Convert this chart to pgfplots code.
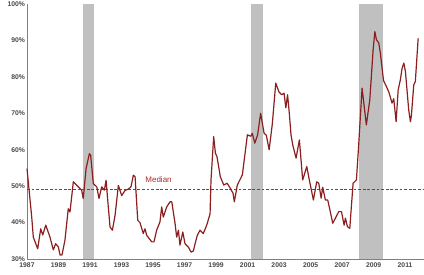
\documentclass[border=0pt]{standalone}
\usepackage{pgfplots}
\pgfplotsset{compat=1.18}
\usepackage{fontspec}
\setmainfont{Liberation Sans}
\definecolor{lineRed}{HTML}{8B1E1E}
\definecolor{medRed}{HTML}{B02A2A}
\definecolor{recGray}{HTML}{C0C0C0}
\definecolor{axGray}{HTML}{808080}
\definecolor{tickText}{HTML}{484848}
\begin{document}
\begin{tikzpicture}
\useasboundingbox (-27pt,-15pt) rectangle (397pt,259pt);
\begin{axis}[
  at={(0pt,0pt)}, anchor=south west,
  scale only axis, width=397pt, height=255pt,
  xmin=1987, xmax=2012.2, ymin=30, ymax=100,
  axis x line=bottom, axis y line=left,
  axis line style={-, draw=axGray, line width=0.8pt},
  xtick={1987,1989,...,2011},
  ytick={30,40,...,100},
  major tick length=0pt,
  tick style={draw=none},
  /pgf/number format/1000 sep={},
  /pgf/number format/assume math mode=true,
  yticklabel={\pgfmathprintnumber{\tick}\%},
  ticklabel style={font=\fontsize{6.8}{8}\selectfont\bfseries, text=tickText},
  xticklabel style={yshift=0pt},
  yticklabel style={xshift=1.5pt},
  clip=false,
]
% recession bars
\addplot[fill=recGray, draw=none] coordinates {(1990.55,30) (1990.55,100) (1991.28,100) (1991.28,30)} -- cycle;
\addplot[fill=recGray, draw=none] coordinates {(2001.22,30) (2001.22,100) (2001.98,100) (2001.98,30)} -- cycle;
\addplot[fill=recGray, draw=none] coordinates {(2008.06,30) (2008.06,100) (2009.6,100) (2009.6,30)} -- cycle;
% median
\addplot[medRed, line width=0.9pt, dash pattern=on 2.8pt off 1.8pt] coordinates {(1987,49) (2012.2,49)};
\node[text=medRed, font=\fontsize{8}{9}\selectfont] at (axis cs:1995.35,51.9) {Median};
% series
\addplot[lineRed, line width=1.2pt, line join=round] coordinates {
(1987.00,54.8) (1987.30,41.5) (1987.40,36) (1987.68,32.8) (1987.87,38.3) (1988.00,36.6)
(1988.19,39.3) (1988.46,36) (1988.67,32.5) (1988.82,34.2) (1988.99,33.3) (1989.10,31.1)
(1989.22,31.1) (1989.41,35.2) (1989.62,43.8) (1989.73,42.9) (1989.94,51.2) (1990.26,49.8)
(1990.47,48.9) (1990.57,46.6) (1990.75,54.8) (1990.96,58.9) (1991.04,58.5) (1991.21,50.7)
(1991.43,49.8) (1991.57,46.6) (1991.74,49.8) (1991.91,48.9) (1992.02,51.6) (1992.10,47.4)
(1992.27,38.8) (1992.42,37.9) (1992.59,42) (1992.80,50.2) (1993.01,47.4) (1993.22,48.8)
(1993.43,49.2) (1993.60,49.8) (1993.75,53) (1993.86,52.6) (1994.03,40.6) (1994.17,40)
(1994.38,37) (1994.49,38.3) (1994.60,36.5) (1994.92,34.7) (1995.06,34.7) (1995.23,37.9)
(1995.44,40.2) (1995.55,44.3) (1995.65,41.5) (1995.87,44.3) (1996.08,45.7) (1996.19,45.7)
(1996.40,39.7) (1996.50,36) (1996.61,37.9) (1996.71,33.8) (1996.89,37.4) (1997.03,34.2)
(1997.24,33.3) (1997.41,31.9) (1997.56,32.2) (1997.67,34.2) (1997.81,36.5) (1997.98,37.9)
(1998.19,37) (1998.41,39.3) (1998.62,42.4) (1998.68,51.7) (1998.85,63.6) (1998.96,59)
(1999.06,58.1) (1999.27,52.6) (1999.49,50.3) (1999.70,50.8) (1999.91,49.4) (2000.08,48)
(2000.16,45.7) (2000.35,50.3) (2000.67,53.1) (2000.99,64.1) (2001.20,63.7) (2001.30,64.5)
(2001.46,61.8) (2001.64,64.1) (2001.83,70) (2002.05,64.5) (2002.19,64) (2002.37,60)
(2002.57,67) (2002.79,78.3) (2003.00,75.8) (2003.17,75.1) (2003.32,75.5) (2003.43,71.5)
(2003.54,75.1) (2003.65,70) (2003.76,64) (2003.87,61.3) (2004.08,57.7) (2004.29,62.7)
(2004.50,51.7) (2004.76,55.4) (2004.92,51.7) (2005.18,46.2) (2005.39,51.2) (2005.52,50.8)
(2005.67,46.7) (2005.77,49.7) (2005.94,46.2) (2006.09,46.2) (2006.41,39.8) (2006.62,41.6)
(2006.79,43) (2006.96,43) (2007.13,39.3) (2007.21,41.2) (2007.34,38.9) (2007.49,38.4)
(2007.59,44.4) (2007.70,50.8) (2007.91,51.7) (2008.02,59) (2008.27,76.9) (2008.54,66.8)
(2008.76,73.7) (2008.97,87.4) (2009.08,92.4) (2009.18,90.2) (2009.33,89.3) (2009.43,86.5)
(2009.63,79) (2009.86,76.9) (2009.97,75.8) (2010.17,72.8) (2010.28,74) (2010.43,67.7)
(2010.56,76.4) (2010.70,79.2) (2010.81,82.4) (2010.92,83.8) (2011.02,81.5) (2011.23,70.9)
(2011.34,67.7) (2011.40,69.4) (2011.55,77.8) (2011.65,78.7) (2011.83,90.6)
};
\end{axis}
\end{tikzpicture}
\end{document}
